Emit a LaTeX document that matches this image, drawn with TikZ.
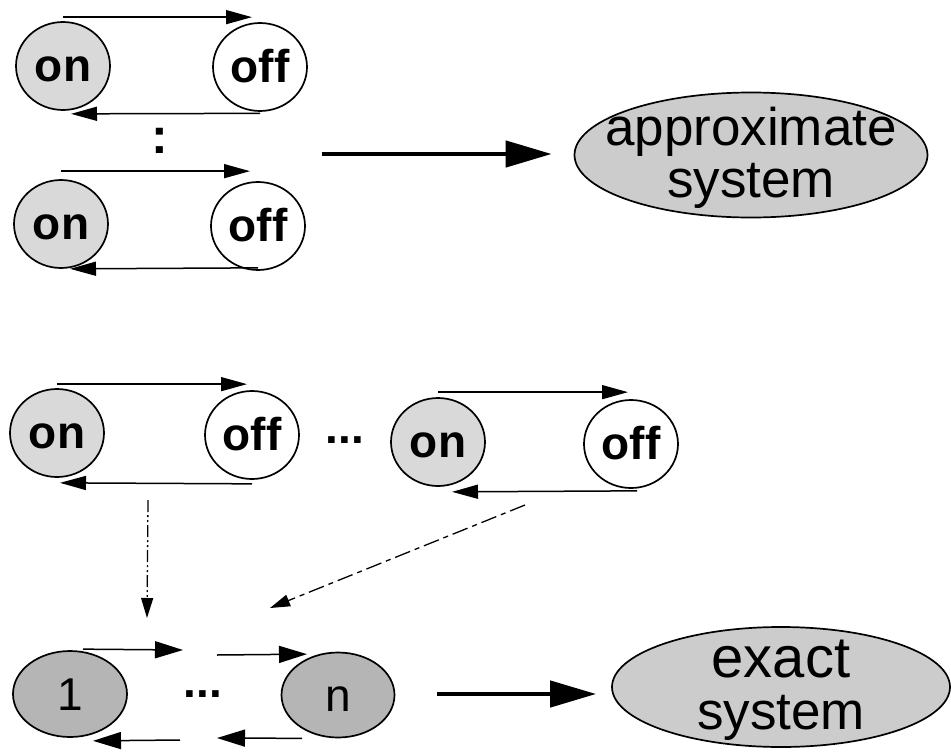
\documentclass[tikz,border=0pt]{standalone}
\usepackage{fontspec}
\setmainfont{Liberation Sans}
\usetikzlibrary{arrows.meta,shapes.geometric}
\begin{document}
\begin{tikzpicture}[x=1pt,y=-1pt,
  stateon/.style={ellipse,draw,line width=1.7pt,fill=gray!30,minimum width=94pt,
    minimum height=88pt,inner sep=0pt,font=\fontsize{46}{50}\selectfont\bfseries,
    text height=30pt,text depth=0pt},
  stateoff/.style={stateon,fill=white},
  phase/.style={ellipse,draw,line width=1.7pt,fill=gray!58,minimum width=114pt,
    minimum height=86pt,inner sep=0pt,font=\fontsize{46}{50}\selectfont,
    text height=32pt,text depth=0pt},
  system/.style={ellipse,draw,line width=1.7pt,fill=gray!40,inner sep=0pt,align=center},
  dots/.style={inner sep=0pt,font=\fontsize{46}{50}\selectfont\bfseries},
  thinarrow/.style={line width=1.5pt,-{Triangle[length=26pt,width=14pt]}},
  ringarrow/.style={line width=1.5pt,-{Triangle[length=28pt,width=17pt]}},
  bigarrow/.style={line width=4.5pt,-{Triangle[length=46pt,width=26pt]}},
  mapdashdot/.style={line width=1.3pt,dash pattern=on 12pt off 3pt on 2pt off 3pt on 2pt off 3pt,
    -{Triangle[length=20pt,width=12pt]}},
  mapdash/.style={line width=1.3pt,dash pattern=on 16pt off 5pt on 5pt off 5pt,
    -{Triangle[length=20pt,width=12pt]}}]
\useasboundingbox (0,0) rectangle (951,755);

% ---- first on/off source ----
\node[stateon]  (on1)  at (63,66)  {on};
\node[stateoff] (off1) at (260,67) {off};
\draw[thinarrow] ([yshift=4pt]on1.north) -- ([xshift=-8pt,yshift=5pt]off1.north);
\draw[thinarrow] ([yshift=-1.5pt]off1.south) -- ([xshift=8pt,yshift=-3pt]on1.south);

\node[inner sep=0pt,font=\fontsize{50}{54}\selectfont\bfseries] (vdots) at (160,141) {:};

% ---- last on/off source ----
\node[stateon]  (on2)  at (61,224)  {on};
\node[stateoff] (off2) at (258,226) {off};
\draw[thinarrow] ([yshift=8pt]on2.north) -- ([xshift=-8pt,yshift=10pt]off2.north);
\draw[thinarrow] ([yshift=3pt]off2.south) -- ([xshift=9pt]on2.south);

% ---- approximate system ----
\node[system,minimum width=353pt,minimum height=125pt] (approx) at (751,155) {};
\node[align=center,inner sep=0pt,font=\fontsize{53}{52}\selectfont]
  at ([yshift=-3pt]approx.center) {approximate\\system};
\coordinate (a0) at (322,154);
\draw[bigarrow] (a0) -- ([xshift=-22pt,yshift=1pt]approx.west);

% ---- individual sources ----
\node[stateon]  (on3)  at (57,433)  {on};
\node[stateoff] (off3) at (252,435) {off};
\draw[thinarrow] ([yshift=4pt]on3.north) -- ([xshift=-5pt,yshift=6pt]off3.north);
\draw[thinarrow] ([yshift=-4pt]off3.south) -- ([xshift=3pt,yshift=-5pt]on3.south);

\node[dots] (hdots) at (345,440) {...};

\node[stateon]  (on4)  at (438,442) {on};
\node[stateoff] (off4) at (631,444) {off};
\draw[thinarrow] ([yshift=5pt]on4.north) -- ([xshift=-3pt,yshift=7pt]off4.north);
\draw[thinarrow] ([xshift=6pt,yshift=-2pt]off4.south) -- ([xshift=14pt,yshift=-5pt]on4.south);

% ---- aggregation into the phase chain ----
\coordinate (v0) at (148,500);
\coordinate (v1) at (147,618);
\coordinate (d0) at (525,505);
\coordinate (d1) at (270,608);
\draw[mapdashdot] (v0) -- (v1);
\draw[mapdash] (d0) -- (d1);

% ---- phase chain 1 ... n ----
\node[phase] (p1) at (70,694) {1};
\node[phase,minimum width=113pt,minimum height=85pt] (pn) at (338,695) {n};
\node[dots] (cdots) at (203,694) {...};

\coordinate (tl) at (183,650);
\coordinate (tr) at (217,655);
\coordinate (bl) at (180,740);
\coordinate (br) at (217,738);
\draw[ringarrow] ([xshift=13pt,yshift=1pt]p1.north) -- (tl);
\draw[ringarrow] (tr) -- ([xshift=-31pt,yshift=-2.5pt]pn.north);
\draw[ringarrow] (bl) -- ([xshift=23pt,yshift=-3pt]p1.south);
\draw[ringarrow] ([xshift=-36pt]pn.south) -- (br);

% ---- exact system ----
\node[system,minimum width=338pt,minimum height=120pt] (exact) at (781,687) {};
\node[align=center,inner sep=0pt,font=\fontsize{53}{52}\selectfont]
  at ([yshift=-3pt]exact.center) {{\fontsize{58}{52}\selectfont exact}\\system};
\coordinate (e0) at (437,694);
\draw[bigarrow] (e0) -- ([xshift=-15pt,yshift=-7pt]exact.west);
\end{tikzpicture}
\end{document}
